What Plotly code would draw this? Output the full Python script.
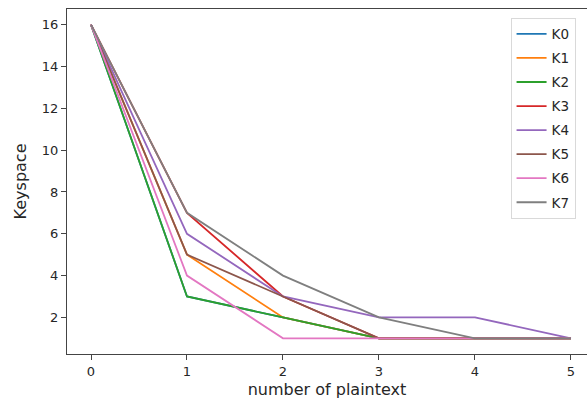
import plotly.graph_objects as go

x_vals = [0, 1, 2, 3, 4, 5]
names = ["K0", "K1", "K2", "K3", "K4", "K5", "K6", "K7"]
K0 = [16, 3, 2, 1, 1, 1]
K1 = [16, 5, 2, 1, 1, 1]
K2 = [16, 3, 2, 1, 1, 1]
K3 = [16, 7, 3, 1, 1, 1]
K4 = [16, 6, 3, 2, 2, 1]
K5 = [16, 5, 3, 1, 1, 1]
K6 = [16, 4, 1, 1, 1, 1]
K7 = [16, 7, 4, 2, 1, 1]
series = [K0, K1, K2, K3, K4, K5, K6, K7]
colors = ["#1f77b4", "#ff7f0e", "#2ca02c", "#d62728", "#9467bd", "#8c564b", "#e377c2", "#7f7f7f"]
y_ticks = [2, 4, 6, 8, 10, 12, 14, 16]
x_ticks = [0, 1, 2, 3, 4, 5]

fig = go.Figure()
for n, s, c in zip(names, series, colors):
    fig.add_trace(go.Scatter(x=x_vals, y=s, mode="lines", name=n, legendgroup=n,
                             line=dict(color=c, width=1.8)))

font = dict(family="DejaVu Sans", size=13, color="#262626")
fig.update_layout(
    width=587, height=401,
    margin=dict(l=67, r=0, t=9, b=47),
    paper_bgcolor="white", plot_bgcolor="white",
    font=font,
    showlegend=True,
    legend=dict(x=0.853, y=0.975, xanchor="left", yanchor="top",
                bgcolor="white", bordercolor="#d9d9d9", borderwidth=1,
                font=dict(family="DejaVu Sans", size=13.5, color="#262626"),
                tracegroupgap=3.5, itemwidth=30),
    xaxis=dict(range=[-0.25, 5.167], tickmode="array", tickvals=x_ticks,
               showgrid=False, zeroline=False, showline=True, linecolor="#444",
               linewidth=1.2, mirror=True, ticks="outside", ticklen=5, tickcolor="#444",
               title=dict(text="number of plaintext", standoff=6)),
    yaxis=dict(range=[0.25, 16.75], tickmode="array", tickvals=y_ticks,
               showgrid=False, zeroline=False, showline=True, linecolor="#444",
               linewidth=1.2, ticks="outside", ticklen=5, tickcolor="#444",
               title=dict(text="Keyspace", standoff=11)),
)
fig.write_html("out.html")
